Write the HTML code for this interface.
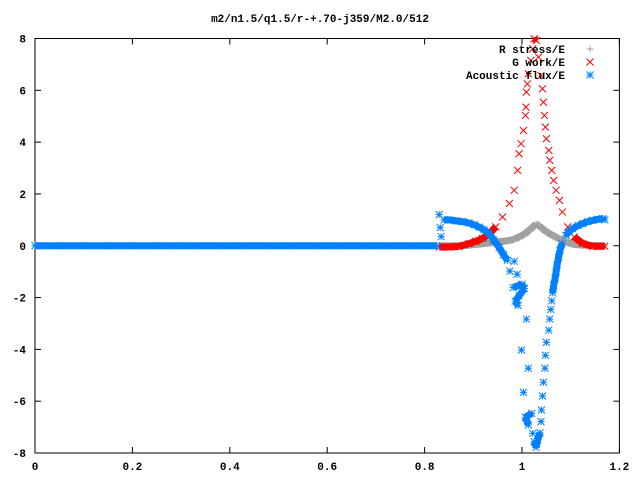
<!DOCTYPE html>
<html><head><meta charset="utf-8"><style>
body{margin:0;background:#fff}
svg text{font-family:"Liberation Mono","DejaVu Sans Mono",monospace;font-size:11px;font-weight:bold}
</style></head><body>
<svg id="chart" width="640" height="480" xmlns="http://www.w3.org/2000/svg">
<rect width="640" height="480" fill="#fff"/>
<text x="320" y="22" text-anchor="middle">m2/n1.5/q1.5/r-+.70-j359/M2.0/512</text>
<g id="axes"></g>
<g id="series"></g>
<g id="legend"></g>
</svg>
<script>
const xTicks=[0,0.2,0.4,0.6,0.8,1,1.2];
const xTickLabels=["0","0.2","0.4","0.6","0.8","1","1.2"];
const yTicks=[-8,-6,-4,-2,0,2,4,6,8];
const yTickLabels=["-8","-6","-4","-2","0","2","4","6","8"];
const seriesNames=["R stress/E","G work/E","Acoustic flux/E"];

const stressX=[0.83,0.85,0.87,0.89,0.91,0.93,0.946,0.96,0.974,0.985,0.994,1.005,1.015,1.022,1.029,1.035,1.042,1.052,1.063,1.073,1.083,1.094,1.104,1.12,1.14,1.16,1.17];
const stressY=[0,0,0,0.02,0.06,0.1,0.15,0.17,0.2,0.26,0.34,0.45,0.6,0.72,0.84,0.78,0.66,0.52,0.4,0.3,0.21,0.12,0.06,0.03,0.01,0,0];

const workX=[0.83,0.85,0.87,0.891,0.905,0.919,0.935,0.946,0.96,0.974,0.984,0.991,0.994,0.998,1.003,1.007,1.008,1.009,1.011,1.013,1.018,1.022,1.025,1.03,1.034,1.039,1.042,1.044,1.046,1.048,1.05,1.055,1.057,1.061,1.065,1.07,1.077,1.083,1.094,1.107,1.125,1.145,1.17];
const workY=[-0.05,-0.05,-0.03,0.08,0.17,0.28,0.5,0.73,1.11,1.63,2.14,2.91,3.55,3.94,4.45,5.03,5.35,5.93,6.25,6.64,7.15,7.6,7.99,7.92,7.28,6.57,6.06,5.54,5.03,4.58,4.13,3.68,3.3,2.91,2.52,2.14,1.75,1.3,0.73,0.34,0.08,-0.02,-0.02];

const fluxX=[0,0.05,0.1,0.15,0.2,0.25,0.3,0.35,0.4,0.45,0.5,0.55,0.6,0.65,0.7,0.75,0.8,0.825,0.83,0.832,0.834,0.84,0.85,0.864,0.878,0.891,0.902,0.912,0.922,0.932,0.942,0.953,0.962,0.97,0.975,0.984,0.99,0.982,1.0,1.005,0.994,0.986,0.992,1.009,0.999,1.013,1.003,1.02,1.007,1.013,1.022,1.025,1.029,1.032,1.037,1.039,1.04,1.042,1.044,1.047,1.048,1.05,1.055,1.057,1.059,1.061,1.063,1.065,1.068,1.07,1.072,1.075,1.078,1.082,1.09,1.097,1.104,1.115,1.125,1.135,1.145,1.156,1.166,1.17];
const fluxY=[0,0,0,0,0,0,0,0,0,0,0,0,0,0,0,0,0,0,1.2,0.7,0.35,1.0,1.0,0.96,0.93,0.88,0.81,0.72,0.62,0.48,0.22,-0.06,-0.35,-0.56,-0.98,-0.6,-1.1,-1.61,-1.48,-1.65,-1.93,-2.14,-2.3,-2.83,-4.03,-4.73,-5.66,-6.47,-6.62,-6.92,-7.24,-7.56,-7.78,-7.5,-7.22,-6.79,-6.34,-5.8,-5.27,-4.73,-4.23,-3.73,-3.26,-2.83,-2.46,-2.13,-1.82,-1.53,-1.26,-1.01,-0.75,-0.45,-0.17,0.08,0.4,0.55,0.66,0.78,0.86,0.93,0.98,1.02,1.05,1.0];

const NS="http://www.w3.org/2000/svg";
const X0=35,X1=619.4,YT=38.5,YB=453;
const xs=v=>X0+v/1.2*(X1-X0);
const ys=v=>YB-(v+8)/16*(YB-YT);
function mk(tag,attrs,parent){const e=document.createElementNS(NS,tag);for(const k in attrs)e.setAttribute(k,attrs[k]);parent.appendChild(e);return e;}
const axes=document.getElementById('axes');
const frame=mk('rect',{x:X0,y:YT,width:X1-X0,height:YB-YT,fill:'none',stroke:'#000','stroke-width':1},axes);


xTicks.forEach((t,i)=>{const x=xs(t);
 const l1=mk('line',{x1:x,x2:x,y1:YB,y2:YB-6,stroke:'#000'},axes);
 
 
 const l2=mk('line',{x1:x,x2:x,y1:YT,y2:YT+6,stroke:'#000'},axes);
 
 
 const tx=mk('text',{x:x,y:470,'text-anchor':'middle'},axes);tx.textContent=xTickLabels[i];
 
 
});
yTicks.forEach((t,i)=>{const y=ys(t);
 const l1=mk('line',{x1:X0,x2:X0+6,y1:y,y2:y,stroke:'#000'},axes);
 
 
 const l2=mk('line',{x1:X1,x2:X1-6,y1:y,y2:y,stroke:'#000'},axes);
 
 
 const tx=mk('text',{x:26,y:y+4,'text-anchor':'end'},axes);tx.textContent=yTickLabels[i];
 
 
});
function marker(g,x,y,type,color){const s=3.5;let d='';
 if(type!=='x')d+=`M${x-s},${y}H${x+s}M${x},${y-s}V${y+s}`;
 if(type!=='+')d+=`M${x-s},${y-s}L${x+s},${y+s}M${x-s},${y+s}L${x+s},${y-s}`;
 mk('path',{d:d,stroke:color,'stroke-width':1,fill:'none'},g);}
function drawSeries(name,X,Y,type,color){const g=mk('g',{},document.getElementById('series'));
 
 
 for(let i=0;i<X.length;i++){const x=xs(X[i]),y=ys(Y[i]);
  if(i>0){const px=xs(X[i-1]),py=ys(Y[i-1]);
   if(Math.abs(py-y)<8&&Math.abs(px-x)<60)mk('line',{x1:px,y1:py,x2:x,y2:y,stroke:color,'stroke-width':7},g);}
  marker(g,x,y,type,color);}
}
drawSeries('r-stress-series',stressX,stressY,'+','#a0a0a0');
drawSeries('g-work-series',workX,workY,'x','#ff0000');
drawSeries('acoustic-flux-series',fluxX,fluxY,'*','#0080ff');
const lg=document.getElementById('legend');
const types=['+','x','*'],cols=['#a0a0a0','#ff0000','#0080ff'],lnames=['legend-r-stress','legend-g-work','legend-acoustic-flux'];
seriesNames.forEach((n,i)=>{const y=49+i*13;
 const g=mk('g',{},lg);
 
 
 const t=mk('text',{x:565,y:y+4,'text-anchor':'end'},g);t.textContent=n;
 marker(g,590,y,types[i],cols[i]);});
</script>
</body></html>
